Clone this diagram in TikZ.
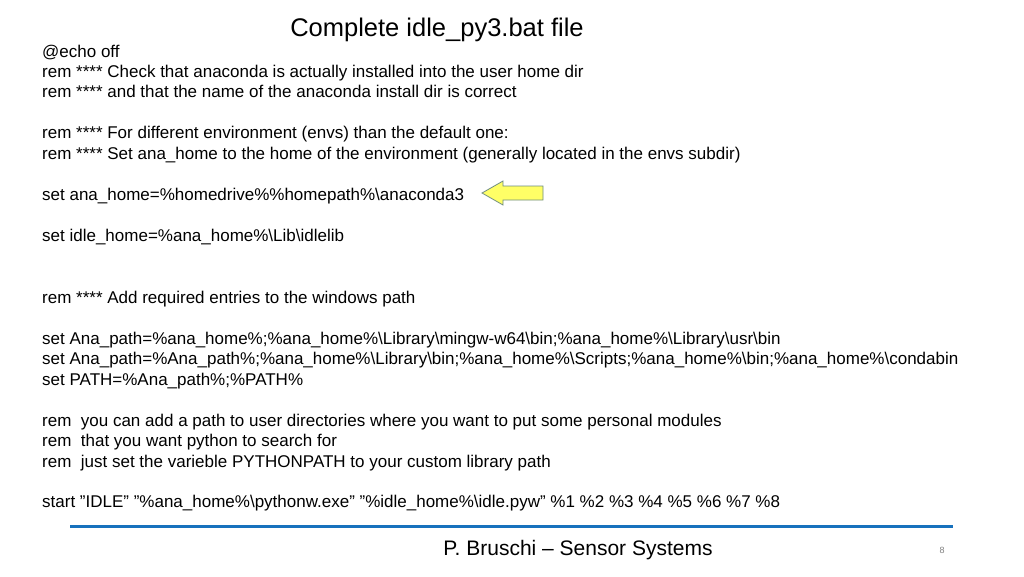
\documentclass[tikz,border=0pt]{standalone}
\usepackage{fontspec}
\setmainfont{Liberation Sans}
\newcommand{\bsl}{\textbackslash{}}
\newcommand{\qt}{\symbol{34}}
\begin{document}
\begin{tikzpicture}[x=1pt,y=-1pt,
  ln/.style={anchor=base west,inner sep=0pt,font=\fontsize{17}{20}\selectfont},
]
\useasboundingbox[fill=white] (0,0) rectangle (1024,576);
\node[inner sep=0pt,font=\fontsize{25.5}{30}\selectfont] (title) at (437,30) {Complete idle\_py3.bat file};
\node[ln] (l1) at (42,57) {@echo off};
\node[ln] (l2) at (42,77) {rem **** Check that anaconda is actually installed into the user home dir};
\node[ln] (l3) at (42,97) {rem **** and that the name of the anaconda install dir is correct};
\node[ln] (l4) at (42,138) {rem **** For different environment (envs) than the default one:};
\node[ln] (l5) at (42,159) {rem **** Set ana\_home to the home of the environment (generally located in the envs subdir)};
\node[ln] (l6) at (42,200) {set ana\_home=\%homedrive\%\%homepath\%\bsl anaconda3};
\node[ln] (l7) at (42,241) {set idle\_home=\%ana\_home\%\bsl Lib\bsl idlelib};
\node[ln] (l8) at (42,303) {rem **** Add required entries to the windows path};
\node[ln] (l9) at (42,344) {set Ana\_path=\%ana\_home\%;\%ana\_home\%\bsl Library\bsl mingw-w64\bsl bin;\%ana\_home\%\bsl Library\bsl usr\bsl bin};
\node[ln] (l10) at (42,364) {set Ana\_path=\%Ana\_path\%;\%ana\_home\%\bsl Library\bsl bin;\%ana\_home\%\bsl Scripts;\%ana\_home\%\bsl bin;\%ana\_home\%\bsl condabin};
\node[ln] (l11) at (42,385) {set PATH=\%Ana\_path\%;\%PATH\%};
\node[ln] (l12) at (42,426) {rem\ \ you can add a path to user directories where you want to put some personal modules};
\node[ln] (l13) at (42,446) {rem\ \ that you want python to search for};
\node[ln] (l14) at (42,467) {rem\ \ just set the varieble PYTHONPATH to your custom library path};
\node[ln] (l15) at (42,507) {start \qt IDLE\qt{} \qt\%ana\_home\%\bsl pythonw.exe\qt{} \qt\%idle\_home\%\bsl idle.pyw\qt{} \%1 \%2 \%3 \%4 \%5 \%6 \%7 \%8};
\draw[fill={rgb,255:red,255;green,255;blue,102},draw={rgb,255:red,110;green,140;blue,130},line width=0.8pt]
  (482,193) -- (503,181) -- (503,186) -- (543,186) -- (543,200) -- (503,200) -- (503,205) -- cycle;
\draw[line width=3pt,draw={rgb,255:red,23;green,113;blue,189}] (70,526) -- (953,526);
\node[inner sep=0pt,font=\fontsize{21}{25}\selectfont] (foot) at (578,550) {P. Bruschi -- Sensor Systems};
\node[inner sep=0pt,font=\fontsize{9}{11}\selectfont,text=gray] (pg) at (942,550) {8};
\end{tikzpicture}
\end{document}
